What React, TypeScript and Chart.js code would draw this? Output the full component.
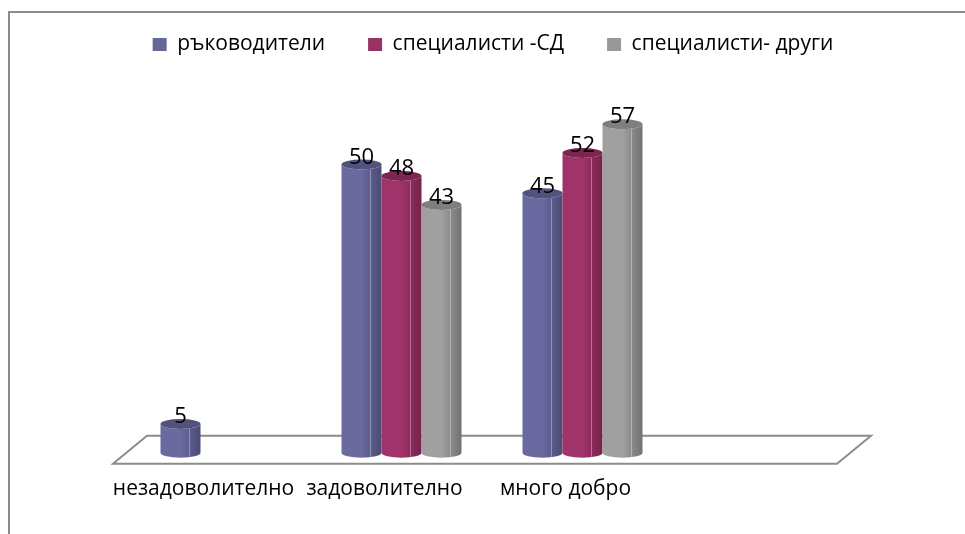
import React, { useEffect, useRef } from "react";
import { Chart, registerables } from "chart.js";

Chart.register(...registerables);

// Survey ratings per group
const categories = ["незадоволително", "задоволително", "много добро", ""];
const rakovoditeli = [5, 50, 45, null];
const specialistiSD = [null, 48, 52, null];
const specialistiDrugi = [null, 43, 57, null];

const seriesNames = ["ръководители", "специалисти -СД", "специалисти- други"];
const seriesColors = ["#666699", "#993366", "#999999"];
// light / dark shades for the cylinder bodies
const shadeLight = ["#6a6aa0", "#a03369", "#a0a0a0"];
const shadeDark = ["#4b4b76", "#75224c", "#727272"];
const capColor = ["#52527c", "#7c2551", "#7e7e7e"];

const FONT = "'Open Sans', 'Noto Sans', sans-serif";
const DEPTH_X = 17;

const frame = {
  id: "frame",
  beforeDraw(chart: any) {
    const ctx = chart.ctx;
    ctx.save();
    ctx.strokeStyle = "#8c8c8c";
    ctx.lineWidth = 2;
    ctx.beginPath();
    ctx.moveTo(9, chart.height);
    ctx.lineTo(9, 12);
    ctx.lineTo(chart.width, 12);
    ctx.stroke();
    ctx.restore();
  },
};

// lift the legend row closer to the top frame
const legendLift = {
  id: "legendLift",
  afterLayout(chart: any) {
    if (chart.legend) {
      chart.legend.top -= 9;
      chart.legend.bottom -= 9;
    }
  },
};

const floor = {
  id: "floor",
  beforeDatasetsDraw(chart: any) {
    const { ctx, chartArea } = chart;
    const zero = chart.scales.y.getPixelForValue(0);
    const L = chartArea.left;
    const R = chartArea.right;
    const front = zero + 11;
    const back = zero - 17;
    ctx.save();
    ctx.beginPath();
    ctx.moveTo(L - DEPTH_X, front);
    ctx.lineTo(R - DEPTH_X, front);
    ctx.lineTo(R + DEPTH_X, back);
    ctx.lineTo(L + DEPTH_X, back);
    ctx.closePath();
    ctx.fillStyle = "#ffffff";
    ctx.fill();
    ctx.strokeStyle = "#8c8c8c";
    ctx.lineWidth = 2;
    ctx.stroke();
    ctx.restore();
  },
};

const cylinders = {
  id: "cylinders",
  beforeDatasetDraw() {
    return false;
  },
  afterDatasetsDraw(chart: any) {
    const ctx = chart.ctx;
    ctx.save();
    chart.data.datasets.forEach((ds: any, di: number) => {
      const meta = chart.getDatasetMeta(di);
      meta.data.forEach((el: any, i: number) => {
        const v = ds.data[i];
        if (v === null || v === undefined) return;
        const cx = el.x;
        const rx = el.width / 2;
        const ry = 5;
        const top = el.y;
        const base = el.base;
        const g = ctx.createLinearGradient(cx - rx, 0, cx + rx, 0);
        g.addColorStop(0, shadeLight[di]);
        g.addColorStop(0.5, shadeLight[di]);
        g.addColorStop(1, shadeDark[di]);
        ctx.beginPath();
        ctx.moveTo(cx - rx, top);
        ctx.lineTo(cx - rx, base);
        ctx.ellipse(cx, base, rx, ry, 0, Math.PI, 0, true);
        ctx.lineTo(cx + rx, top);
        ctx.ellipse(cx, top, rx, ry, 0, 0, Math.PI, false);
        ctx.closePath();
        ctx.fillStyle = g;
        ctx.fill();
        // faint highlight stripe
        ctx.strokeStyle = "rgba(255,255,255,0.35)";
        ctx.lineWidth = 1;
        ctx.beginPath();
        ctx.moveTo(cx + rx * 0.45, top + ry);
        ctx.lineTo(cx + rx * 0.45, base + ry - 1);
        ctx.stroke();
        // top cap
        ctx.beginPath();
        ctx.ellipse(cx, top, rx, ry, 0, 0, Math.PI * 2);
        ctx.fillStyle = capColor[di];
        ctx.fill();
      });
    });
    // value labels
    ctx.fillStyle = "#000000";
    ctx.font = `22px ${FONT}`;
    ctx.textAlign = "center";
    ctx.textBaseline = "middle";
    chart.data.datasets.forEach((ds: any, di: number) => {
      const meta = chart.getDatasetMeta(di);
      meta.data.forEach((el: any, i: number) => {
        const v = ds.data[i];
        if (v === null || v === undefined) return;
        ctx.fillText(String(v), el.x, el.y - 7);
      });
    });
    ctx.restore();
  },
};

const hiddenAxis = (width: number, position: "left" | "right") => ({
  type: "linear" as const,
  position,
  display: true,
  min: 0,
  max: 65.7,
  ticks: { display: false },
  grid: { display: false, drawTicks: false },
  border: { display: false },
  afterFit(scale: any) {
    scale.width = width;
  },
});

export default function App() {
  const ref = useRef<HTMLCanvasElement>(null);

  useEffect(() => {
    if (!ref.current) return;
    const chart = new Chart(ref.current, {
      type: "bar",
      data: {
        labels: categories,
        datasets: [
          { label: seriesNames[0], data: rakovoditeli, backgroundColor: seriesColors[0] },
          { label: seriesNames[1], data: specialistiSD, backgroundColor: seriesColors[1] },
          { label: seriesNames[2], data: specialistiDrugi, backgroundColor: seriesColors[2] },
        ],
      },
      options: {
        responsive: false,
        animation: false,
        events: [],
        datasets: {
          bar: { barPercentage: 1, categoryPercentage: 0.663 },
        },
        layout: { padding: { left: 31, right: 10, top: 0, bottom: 8 } },
        plugins: {
          tooltip: { enabled: false },
          legend: {
            position: "top",
            labels: {
              boxWidth: 14,
              boxHeight: 13,
              padding: 43,
              color: "#000000",
              font: { family: FONT, size: 21 },
            },
          },
        },
        scales: {
          x: {
            grid: { display: false, drawTicks: false },
            border: { display: false },
            ticks: {
              color: "#000000",
              font: { family: FONT, size: 21 },
              padding: 24,
              labelOffset: -DEPTH_X,
              autoSkip: false,
              maxRotation: 0,
              minRotation: 0,
            },
          },
          y: hiddenAxis(99, "left"),
          yRight: hiddenAxis(101, "right"),
        },
      },
      plugins: [frame, legendLift, floor, cylinders],
    });
    return () => chart.destroy();
  }, []);

  return (
    <div style={{ position: "fixed", left: 0, top: 0, width: 965, height: 534, background: "#fff" }}>
      <canvas ref={ref} width={965} height={534} style={{ display: "block" }} />
    </div>
  );
}
